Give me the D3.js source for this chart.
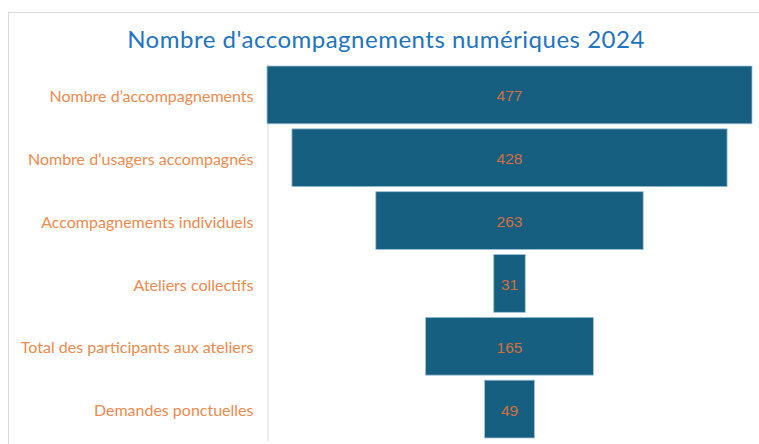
<!DOCTYPE html>
<html>
<head>
<meta charset="utf-8">
<script src="https://cdn.jsdelivr.net/npm/d3@7"></script>
<style>
  body { margin: 0; background: #fff; }
  svg { display: block; }
</style>
</head>
<body>
<div id="chart"></div>
<script>
const width = 759;
const height = 444;

// Chart data
const title = "Nombre d'accompagnements numériques 2024";
const categories = [
  "Nombre d’accompagnements",
  "Nombre d’usagers accompagnés",
  "Accompagnements individuels",
  "Ateliers collectifs",
  "Total des participants aux ateliers",
  "Demandes ponctuelles"
];
const values = [477, 428, 263, 31, 165, 49];

const axisX = 267.5;
const centerX = 509.5;

const svg = d3.select("#chart")
  .append("svg")
  .attr("width", width)
  .attr("height", height);

// chart frame (extends past the window on the right/bottom)
svg.append("rect")
  .attr("x", 8.5)
  .attr("y", 12.5)
  .attr("width", 900)
  .attr("height", 600)
  .attr("fill", "none")
  .attr("stroke", "#d9d9d9");

svg.append("text")
  .attr("x", 386)
  .attr("y", 48)
  .attr("text-anchor", "middle")
  .style("font-family", "Lato, 'Open Sans', sans-serif")
  .style("font-size", "24px")
  .style("letter-spacing", "0.5px")
  .style("fill", "#2274c0")
  .text(title);

const x = d3.scaleLinear()
  .domain([0, 477])
  .range([0, 485]);

const y = d3.scaleBand()
  .domain(categories)
  .range([63.5, 440.5])
  .paddingInner(0.08)
  .paddingOuter(0.04);

// category axis
const axis = svg.append("g")
  .attr("transform", `translate(${axisX},0)`)
  .call(d3.axisLeft(y).tickSize(0).tickSizeOuter(0).tickPadding(14));

axis.select(".domain").attr("stroke", "#d9d9d9");
axis.selectAll("text")
  .attr("dy", "0.45em")
  .style("font-family", "Lato, 'Open Sans', sans-serif")
  .style("font-size", "16px")
  .style("fill", "#ef8a4e");

const rows = categories.map((c, i) => ({ category: c, value: values[i] }));

// funnel bars, centred on a common axis
svg.append("g")
  .selectAll("rect")
  .data(rows)
  .join("rect")
  .attr("x", d => centerX - x(d.value) / 2)
  .attr("y", d => y(d.category))
  .attr("width", d => x(d.value))
  .attr("height", y.bandwidth())
  .attr("fill", "#175f81")
  .attr("stroke", "#9fc2d6")
  .attr("stroke-width", 0.8);

svg.append("g")
  .selectAll("text")
  .data(rows)
  .join("text")
  .attr("x", centerX)
  .attr("y", d => y(d.category) + y.bandwidth() / 2 + 1)
  .attr("dy", "0.35em")
  .attr("text-anchor", "middle")
  .style("font-family", "'Liberation Sans', Arial, sans-serif")
  .style("font-size", "15.5px")
  .style("fill", "#d2703a")
  .text(d => d.value);
</script>
</body>
</html>
